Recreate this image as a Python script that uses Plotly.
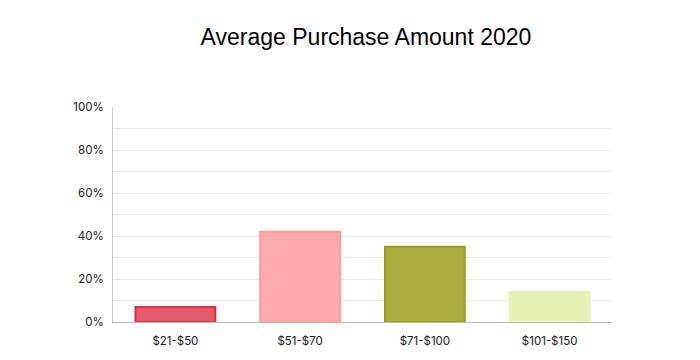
import plotly.graph_objects as go

categories = ["$21-$50", "$51-$70", "$71-$100", "$101-$150"]
values = [7, 42, 35, 14]
fill_colors = ["#e35a6b", "#ffaaaa", "#aaac40", "#e6f2b2"]
line_colors = ["#dc3048", "#ff9b9b", "#9c9e1c", "#e6f2b2"]
y_tick_vals = [0, 20, 40, 60, 80, 100]
y_tick_text = ["0%", "20%", "40%", "60%", "80%", "100%"]

fig = go.Figure(go.Bar(
    x=categories, y=values,
    marker=dict(color=fill_colors, line=dict(color=line_colors, width=2)),
    hovertemplate="%{x}: %{y}%<extra></extra>",
))

# page body has an 8px default margin; offsets below compensate for it
fig.update_layout(
    width=700, height=360,
    margin=dict(l=105, r=96, t=99, b=46),
    paper_bgcolor="white", plot_bgcolor="white",
    bargap=0.36,
    showlegend=False,
    title=dict(text="Average Purchase Amount 2020", x=0.507, xref="paper",
               y=1 - 29 / 360, yref="container", yanchor="middle",
               font=dict(family="Liberation Sans, Arial", size=23, color="#000")),
    font=dict(family="Inter, Roboto, sans-serif", size=11.5, color="#222"),
)
fig.update_xaxes(showline=True, linecolor="#bbbbbb", linewidth=1,
                 showgrid=False, ticks="", ticklabelstandoff=8)
fig.update_yaxes(range=[0, 100], tickvals=y_tick_vals, ticktext=y_tick_text,
                 showline=True, linecolor="#cccccc", linewidth=1,
                 showgrid=True, gridcolor="#ebebeb", zeroline=False,
                 minor=dict(dtick=10, showgrid=True, gridcolor="#ebebeb"),
                 ticks="", ticklabelstandoff=6)

fig.write_html("out.html")
